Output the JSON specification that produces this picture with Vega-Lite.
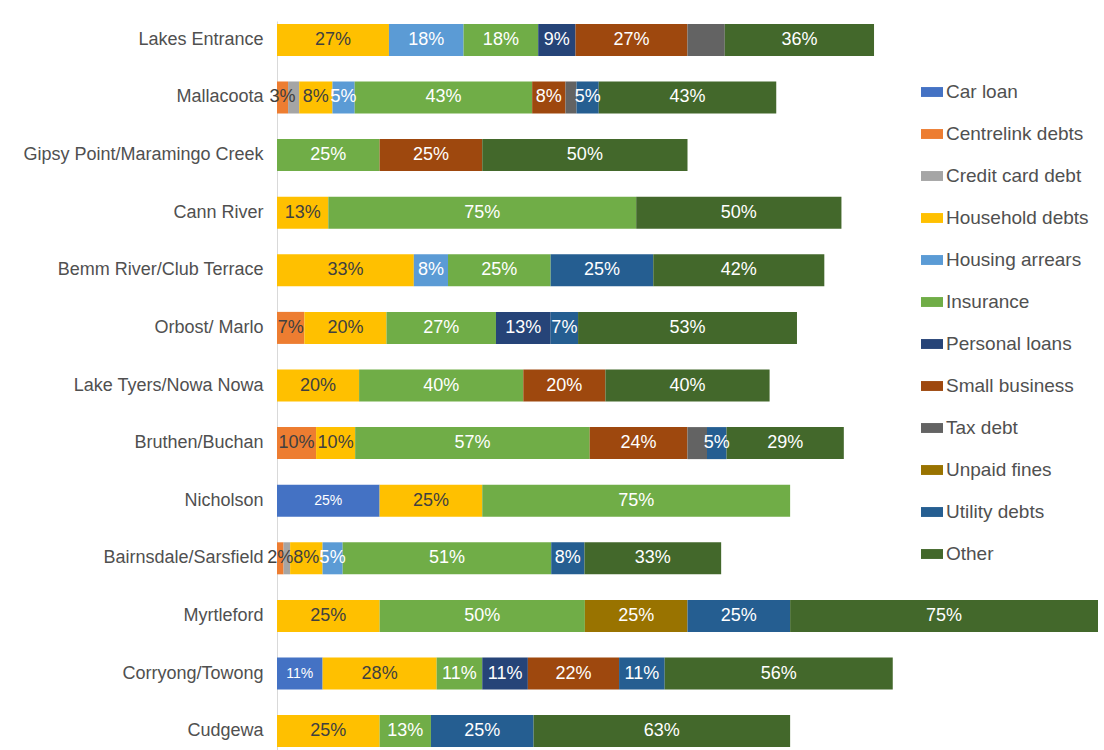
{
  "$schema": "https://vega.github.io/schema/vega-lite/v6.json",
  "width": 821,
  "height": 729,
  "autosize": "none",
  "padding": {"left": 277, "top": 21, "right": 0, "bottom": 0},
  "background": "white",
  "config": {"view": {"stroke": null}, "font": "Liberation Sans"},
  "datasets": {
    "cats": [
      {"cat": "Car loan", "rank": 1},
      {"cat": "Centrelink debts", "rank": 2},
      {"cat": "Credit card debt", "rank": 3},
      {"cat": "Household debts", "rank": 4},
      {"cat": "Housing arrears", "rank": 5},
      {"cat": "Insurance", "rank": 6},
      {"cat": "Personal loans", "rank": 7},
      {"cat": "Small business", "rank": 8},
      {"cat": "Tax debt", "rank": 9},
      {"cat": "Unpaid fines", "rank": 10},
      {"cat": "Utility debts", "rank": 11},
      {"cat": "Other", "rank": 12}
    ],
    "rows": [
      {"loc": "Lakes Entrance", "cat": "Household debts", "pct": 27.27, "label": "27%"},
      {"loc": "Lakes Entrance", "cat": "Housing arrears", "pct": 18.18, "label": "18%"},
      {"loc": "Lakes Entrance", "cat": "Insurance", "pct": 18.18, "label": "18%"},
      {"loc": "Lakes Entrance", "cat": "Personal loans", "pct": 9.09, "label": "9%"},
      {"loc": "Lakes Entrance", "cat": "Small business", "pct": 27.27, "label": "27%"},
      {"loc": "Lakes Entrance", "cat": "Tax debt", "pct": 9.09, "label": ""},
      {"loc": "Lakes Entrance", "cat": "Other", "pct": 36.36, "label": "36%"},

      {"loc": "Mallacoota", "cat": "Centrelink debts", "pct": 2.7, "label": "3%"},
      {"loc": "Mallacoota", "cat": "Credit card debt", "pct": 2.7, "label": ""},
      {"loc": "Mallacoota", "cat": "Household debts", "pct": 8.11, "label": "8%"},
      {"loc": "Mallacoota", "cat": "Housing arrears", "pct": 5.41, "label": "5%"},
      {"loc": "Mallacoota", "cat": "Insurance", "pct": 43.24, "label": "43%"},
      {"loc": "Mallacoota", "cat": "Small business", "pct": 8.11, "label": "8%"},
      {"loc": "Mallacoota", "cat": "Tax debt", "pct": 2.7, "label": ""},
      {"loc": "Mallacoota", "cat": "Utility debts", "pct": 5.41, "label": "5%"},
      {"loc": "Mallacoota", "cat": "Other", "pct": 43.24, "label": "43%"},

      {"loc": "Gipsy Point/Maramingo Creek", "cat": "Insurance", "pct": 25, "label": "25%"},
      {"loc": "Gipsy Point/Maramingo Creek", "cat": "Small business", "pct": 25, "label": "25%"},
      {"loc": "Gipsy Point/Maramingo Creek", "cat": "Other", "pct": 50, "label": "50%"},

      {"loc": "Cann River", "cat": "Household debts", "pct": 12.5, "label": "13%"},
      {"loc": "Cann River", "cat": "Insurance", "pct": 75, "label": "75%"},
      {"loc": "Cann River", "cat": "Other", "pct": 50, "label": "50%"},

      {"loc": "Bemm River/Club Terrace", "cat": "Household debts", "pct": 33.33, "label": "33%"},
      {"loc": "Bemm River/Club Terrace", "cat": "Housing arrears", "pct": 8.33, "label": "8%"},
      {"loc": "Bemm River/Club Terrace", "cat": "Insurance", "pct": 25, "label": "25%"},
      {"loc": "Bemm River/Club Terrace", "cat": "Utility debts", "pct": 25, "label": "25%"},
      {"loc": "Bemm River/Club Terrace", "cat": "Other", "pct": 41.67, "label": "42%"},

      {"loc": "Orbost/ Marlo", "cat": "Centrelink debts", "pct": 6.67, "label": "7%"},
      {"loc": "Orbost/ Marlo", "cat": "Household debts", "pct": 20, "label": "20%"},
      {"loc": "Orbost/ Marlo", "cat": "Insurance", "pct": 26.67, "label": "27%"},
      {"loc": "Orbost/ Marlo", "cat": "Personal loans", "pct": 13.33, "label": "13%"},
      {"loc": "Orbost/ Marlo", "cat": "Utility debts", "pct": 6.67, "label": "7%"},
      {"loc": "Orbost/ Marlo", "cat": "Other", "pct": 53.33, "label": "53%"},

      {"loc": "Lake Tyers/Nowa Nowa", "cat": "Household debts", "pct": 20, "label": "20%"},
      {"loc": "Lake Tyers/Nowa Nowa", "cat": "Insurance", "pct": 40, "label": "40%"},
      {"loc": "Lake Tyers/Nowa Nowa", "cat": "Small business", "pct": 20, "label": "20%"},
      {"loc": "Lake Tyers/Nowa Nowa", "cat": "Other", "pct": 40, "label": "40%"},

      {"loc": "Bruthen/Buchan", "cat": "Centrelink debts", "pct": 9.52, "label": "10%"},
      {"loc": "Bruthen/Buchan", "cat": "Household debts", "pct": 9.52, "label": "10%"},
      {"loc": "Bruthen/Buchan", "cat": "Insurance", "pct": 57.14, "label": "57%"},
      {"loc": "Bruthen/Buchan", "cat": "Small business", "pct": 23.81, "label": "24%"},
      {"loc": "Bruthen/Buchan", "cat": "Tax debt", "pct": 4.76, "label": ""},
      {"loc": "Bruthen/Buchan", "cat": "Utility debts", "pct": 4.76, "label": "5%"},
      {"loc": "Bruthen/Buchan", "cat": "Other", "pct": 28.57, "label": "29%"},

      {"loc": "Nicholson", "cat": "Car loan", "pct": 25, "label": "25%"},
      {"loc": "Nicholson", "cat": "Household debts", "pct": 25, "label": "25%"},
      {"loc": "Nicholson", "cat": "Insurance", "pct": 75, "label": "75%"},

      {"loc": "Bairnsdale/Sarsfield", "cat": "Centrelink debts", "pct": 1.6, "label": "2%"},
      {"loc": "Bairnsdale/Sarsfield", "cat": "Credit card debt", "pct": 1.6, "label": ""},
      {"loc": "Bairnsdale/Sarsfield", "cat": "Household debts", "pct": 7.9, "label": "8%"},
      {"loc": "Bairnsdale/Sarsfield", "cat": "Housing arrears", "pct": 4.9, "label": "5%"},
      {"loc": "Bairnsdale/Sarsfield", "cat": "Insurance", "pct": 50.8, "label": "51%"},
      {"loc": "Bairnsdale/Sarsfield", "cat": "Utility debts", "pct": 8.1, "label": "8%"},
      {"loc": "Bairnsdale/Sarsfield", "cat": "Other", "pct": 33.3, "label": "33%"},

      {"loc": "Myrtleford", "cat": "Household debts", "pct": 25, "label": "25%"},
      {"loc": "Myrtleford", "cat": "Insurance", "pct": 50, "label": "50%"},
      {"loc": "Myrtleford", "cat": "Unpaid fines", "pct": 25, "label": "25%"},
      {"loc": "Myrtleford", "cat": "Utility debts", "pct": 25, "label": "25%"},
      {"loc": "Myrtleford", "cat": "Other", "pct": 75, "label": "75%"},

      {"loc": "Corryong/Towong", "cat": "Car loan", "pct": 11.11, "label": "11%"},
      {"loc": "Corryong/Towong", "cat": "Household debts", "pct": 27.78, "label": "28%"},
      {"loc": "Corryong/Towong", "cat": "Insurance", "pct": 11.11, "label": "11%"},
      {"loc": "Corryong/Towong", "cat": "Personal loans", "pct": 11.11, "label": "11%"},
      {"loc": "Corryong/Towong", "cat": "Small business", "pct": 22.22, "label": "22%"},
      {"loc": "Corryong/Towong", "cat": "Utility debts", "pct": 11.11, "label": "11%"},
      {"loc": "Corryong/Towong", "cat": "Other", "pct": 55.56, "label": "56%"},

      {"loc": "Cudgewa", "cat": "Household debts", "pct": 25, "label": "25%"},
      {"loc": "Cudgewa", "cat": "Insurance", "pct": 12.5, "label": "13%"},
      {"loc": "Cudgewa", "cat": "Utility debts", "pct": 25, "label": "25%"},
      {"loc": "Cudgewa", "cat": "Other", "pct": 62.5, "label": "63%"}
    ]
  },
  "data": {"name": "rows"},
  "transform": [
    {"lookup": "cat", "from": {"data": {"name": "cats"}, "key": "cat", "fields": ["rank"]}},
    {"stack": "pct", "groupby": ["loc"], "sort": [{"field": "rank", "order": "ascending"}], "as": ["x0", "x1"]},
    {"calculate": "(datum.x0 + datum.x1) / 2", "as": "mid"}
  ],
  "encoding": {
    "y": {
      "field": "loc",
      "type": "nominal",
      "sort": ["Lakes Entrance", "Mallacoota", "Gipsy Point/Maramingo Creek", "Cann River", "Bemm River/Club Terrace", "Orbost/ Marlo", "Lake Tyers/Nowa Nowa", "Bruthen/Buchan", "Nicholson", "Bairnsdale/Sarsfield", "Myrtleford", "Corryong/Towong", "Cudgewa"],
      "scale": {"paddingInner": 0.444, "paddingOuter": 0.05},
      "axis": {
        "title": null,
        "ticks": false,
        "domainColor": "#d9d9d9",
        "domainWidth": 1,
        "labelFont": "Liberation Sans",
        "labelFontSize": 18,
        "labelColor": "#505050",
        "labelPadding": 14,
        "labelLimit": 300
      }
    }
  },
  "layer": [
    {
      "mark": {"type": "bar"},
      "encoding": {
        "x": {"field": "x0", "type": "quantitative", "scale": {"domain": [0, 200], "nice": false, "zero": true}, "axis": null},
        "x2": {"field": "x1"},
        "color": {
          "field": "cat",
          "type": "nominal",
          "scale": {
            "domain": ["Car loan", "Centrelink debts", "Credit card debt", "Household debts", "Housing arrears", "Insurance", "Personal loans", "Small business", "Tax debt", "Unpaid fines", "Utility debts", "Other"],
            "range": ["#4472C4", "#ED7D31", "#A5A5A5", "#FFC000", "#5B9BD5", "#70AD47", "#264478", "#9E480E", "#636363", "#997300", "#255E91", "#43682B"]
          },
          "legend": {
            "title": null,
            "orient": "none",
            "legendX": 644,
            "legendY": 60,
            "symbolType": "M-1,-0.45H1V0.45H-1Z",
            "symbolSize": 484,
            "symbolStrokeWidth": 0,
            "labelFont": "Liberation Sans",
            "labelFontSize": 19,
            "labelColor": "#505050",
            "labelOffset": 3,
            "rowPadding": 21,
            "labelLimit": 300
          }
        }
      }
    },
    {
      "mark": {"type": "text", "font": "Liberation Sans", "baseline": "middle", "align": "center"},
      "encoding": {
        "x": {"field": "mid", "type": "quantitative", "scale": {"domain": [0, 200], "nice": false}},
        "text": {"field": "label"},
        "color": {
          "condition": {"test": "indexof(['Household debts','Centrelink debts','Credit card debt'], datum.cat) >= 0", "value": "#404040"},
          "value": "#ffffff"
        },
        "size": {
          "condition": {"test": "datum.cat === 'Car loan'", "value": 14},
          "value": 18
        }
      }
    }
  ]
}
